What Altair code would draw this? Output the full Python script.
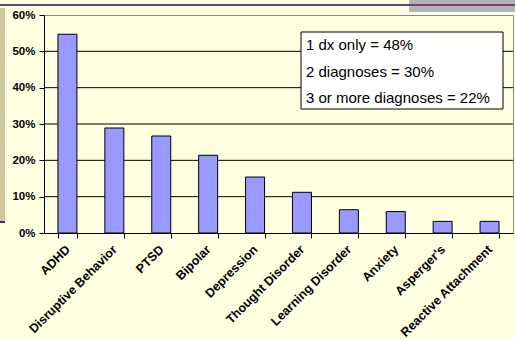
import altair as alt
import pandas as pd

# Share of youth with each diagnosis
categories = ["ADHD", "Disruptive Behavior", "PTSD", "Bipolar", "Depression",
              "Thought Disorder", "Learning Disorder", "Anxiety", "Asperger's",
              "Reactive Attachment"]
shares = [0.547, 0.289, 0.267, 0.214, 0.154, 0.112, 0.064, 0.059, 0.032, 0.032]

grid_ticks = [0.1, 0.2, 0.3, 0.4, 0.5]
axis_ticks = [0.0, 0.1, 0.2, 0.3, 0.4, 0.5, 0.6]

box_lines = ["1 dx only = 48%", "2 diagnoses = 30%", "3 or more diagnoses = 22%"]

FONT = "Arial, Liberation Sans, sans-serif"
BG = "#FFFFE1"

df = pd.DataFrame({"diagnosis": categories, "share": shares})

yscale = alt.Scale(domain=[0, 0.6], nice=False, zero=True)
xscale = alt.Scale(paddingInner=0.595, paddingOuter=0.2975)

y_axis = alt.Axis(title=None, values=axis_ticks, format=".0%",
                  labelFont=FONT, labelFontSize=11.5,
                  labelFontWeight="bold", labelColor="black",
                  labelPadding=4, tickSize=5, tickColor="black",
                  domainColor="black", grid=False)

one = alt.Data(values=[{}])

# slide decorations around the plot frame
grey_tab = alt.Chart(one).mark_rect(color="#B4B4B4").encode(
    x=alt.value(365), x2=alt.value(471), y=alt.value(-15), y2=alt.value(-3))
top_line = alt.Chart(one).mark_rule(color="#6E4470", strokeWidth=2).encode(
    x=alt.value(-44), x2=alt.value(471), y=alt.value(-10))
side_band = alt.Chart(one).mark_rect(color="#CFC89C").encode(
    x=alt.value(-44), x2=alt.value(-39), y=alt.value(-7), y2=alt.value(206))
side_stub = alt.Chart(one).mark_rule(color="#5A2A5E", strokeWidth=2).encode(
    x=alt.value(-44), x2=alt.value(-39), y=alt.value(207))

grid = alt.Chart(pd.DataFrame({"share": grid_ticks})).mark_rule(
    color="black", strokeWidth=1).encode(
    y=alt.Y("share:Q", scale=yscale, axis=y_axis))

bars = alt.Chart(df).mark_bar(color="#9999FF", stroke="black", strokeWidth=1).encode(
    x=alt.X("diagnosis:N", sort=categories, scale=xscale,
            axis=alt.Axis(title=None, labelAngle=-45, labelAlign="right",
                          labelBaseline="middle", labelFont=FONT,
                          labelFontSize=12.5, labelFontWeight="bold",
                          labelColor="black", labelPadding=9,
                          tickBand="extent", tickSize=5, tickColor="black",
                          domainColor="black", labelOverlap=False)),
    y=alt.Y("share:Q", scale=yscale, axis=y_axis),
)

# annotation box with the diagnosis-count breakdown
box = alt.Chart(one).mark_rect(fill="white", stroke="black", strokeWidth=1).encode(
    x=alt.value(257), x2=alt.value(459), y=alt.value(17), y2=alt.value(94))

texts = [
    alt.Chart(alt.Data(values=[{"t": line}])).mark_text(
        align="left", baseline="middle", font=FONT, fontSize=15, color="black"
    ).encode(x=alt.value(262), y=alt.value(30 + i * 26.5), text="t:N")
    for i, line in enumerate(box_lines)
]

chart = alt.layer(
    grey_tab, top_line, side_band, side_stub, grid, bars, box, *texts
).properties(
    width=469, height=218,
    autosize=alt.AutoSizeParams(type="none"),
    padding={"left": 44, "top": 15, "right": 2, "bottom": 106},
).configure(background=BG).configure_view(stroke="#8A8A8A", strokeWidth=1)

chart.save("out.html", embed_options={"renderer": "svg", "actions": False})
